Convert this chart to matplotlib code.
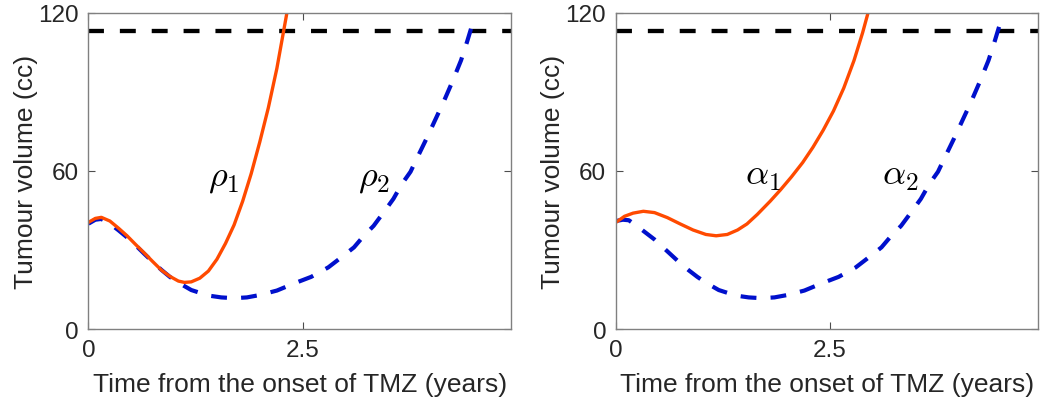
import matplotlib
matplotlib.use("Agg")
import matplotlib.pyplot as plt

# values (time in years, volume in cc)
rho1_t = [0, 0.08, 0.15, 0.25, 0.35, 0.45, 0.55, 0.65, 0.75, 0.85, 0.95, 1.05, 1.12,
          1.2, 1.3, 1.4, 1.5, 1.6, 1.7, 1.8, 1.9, 2.0, 2.1, 2.2, 2.3, 2.4]
rho1_v = [40.5, 42.0, 42.4, 41.0, 38.3, 35.4, 32.1, 28.9, 25.6, 22.4, 20.0, 18.2, 17.7,
          17.9, 19.3, 22.0, 26.5, 32.5, 39.5, 48.5, 59.0, 71.0, 84.0, 99.0, 117.0, 135.0]

base_t = [0, 0.08, 0.15, 0.25, 0.35, 0.45, 0.55, 0.65, 0.75, 0.85, 0.95, 1.05, 1.2, 1.4,
          1.55, 1.7, 1.85, 2.0, 2.2, 2.4, 2.6, 2.8, 2.96, 3.1, 3.21, 3.33, 3.46, 3.56,
          3.66, 3.76, 3.85, 3.95, 4.05, 4.15, 4.25, 4.35, 4.42, 4.49]
rho2_v = [40.0, 41.5, 41.8, 40.0, 37.5, 34.8, 31.8, 28.6, 25.5, 22.5, 19.8, 17.6, 14.8,
          12.7, 12.0, 11.7, 12.0, 12.9, 14.6, 17.3, 19.8, 23.4, 27.4, 31.0, 35.2, 39.2,
          44.9, 49.4, 55.1, 59.7, 65.8, 72.5, 79.5, 86.5, 94.0, 102.0, 109.0, 116.5]

alpha1_t = [0, 0.1, 0.2, 0.32, 0.45, 0.6, 0.75, 0.9, 1.05, 1.17, 1.3, 1.42, 1.53, 1.65,
            1.8, 1.92, 2.05, 2.18, 2.3, 2.42, 2.54, 2.66, 2.78, 2.88, 2.96]
alpha1_v = [40.5, 42.8, 44.0, 44.7, 44.2, 42.3, 39.9, 37.6, 35.9, 35.4, 35.9, 37.6, 39.9,
            43.5, 48.5, 52.8, 57.8, 63.2, 69.0, 75.5, 82.8, 91.5, 102.0, 112.5, 122.0]
alpha2_v = [41.0, 41.5, 41.3, 39.0, 36.5, 34.0, 31.0, 28.0, 25.0, 22.3, 19.8, 17.6, 14.8,
            12.7, 12.0, 11.7, 12.0, 12.9, 14.6, 17.3, 19.8, 23.4, 27.4, 31.0, 35.2, 39.2,
            44.9, 49.4, 55.1, 59.7, 65.8, 72.5, 79.5, 86.5, 94.0, 102.0, 109.0, 116.5]

threshold = 113
x_max = 1800 / 365
x_ticks = [0, 2.5]
y_ticks = [0, 60, 120]

panels = [
    (rho1_t, rho1_v, rho2_v, [r"$\rho_1$", r"$\rho_2$"], [(1.58, 58), (3.34, 58)]),
    (alpha1_t, alpha1_v, alpha2_v, [r"$\alpha_1$", r"$\alpha_2$"], [(1.72, 58.5), (3.32, 58.5)]),
]

plt.rcParams["font.family"] = ["Liberation Sans", "DejaVu Sans"]
plt.rcParams["mathtext.fontset"] = "cm"

fig = plt.figure(figsize=(10.41, 4.10), dpi=100)
lefts = [0.0850, 0.5917]

for left, (t1, v1, v2, names, spots) in zip(lefts, panels):
    ax = fig.add_axes([left, 0.1951, 0.4057, 0.7708])
    ax.axhline(threshold, color="black", lw=3.1, ls=(0, (3.7, 3.7)))
    ax.plot(base_t, v2, color="#0010CC", lw=3.0, ls=(0, (3.8, 3.4)))
    ax.plot(t1, v1, color="#FF4A00", lw=2.4, solid_joinstyle="round")
    for name, (tx, ty) in zip(names, spots):
        ax.text(tx, ty, name, fontsize=26, ha="center", va="center", color="black")

    ax.set_xlim(0, x_max)
    ax.set_ylim(0, 120)
    ax.set_xticks(x_ticks)
    ax.set_xticklabels(["0", "2.5"])
    ax.set_yticks(y_ticks)
    ax.tick_params(direction="in", length=5, width=0.8, color="#4d4d4d",
                   labelsize=17.5, labelcolor="#262626", pad=7,
                   top=True, right=True)
    for sp in ax.spines.values():
        sp.set_color("#808080")
        sp.set_linewidth(1.0)

    ax.set_xlabel("Time from the onset of TMZ (years)", fontsize=19, color="#262626")
    ax.set_ylabel("Tumour volume (cc)", fontsize=19, color="#262626")
    ax.xaxis.set_label_coords(0.5, -0.135)
    ax.yaxis.set_label_coords(-0.12, 0.5)

fig.savefig("out.png", dpi=100)
